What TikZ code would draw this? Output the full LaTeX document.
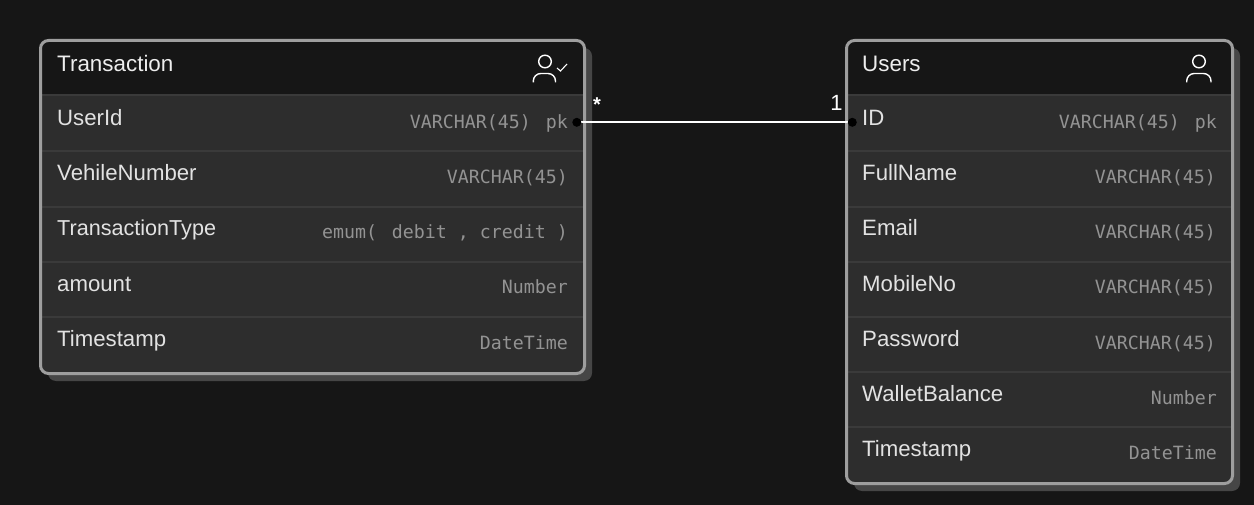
\documentclass[tikz,border=0pt]{standalone}
\usepackage{fontspec}
\setmainfont{Liberation Sans}
\newfontfamily\monof{DejaVu Sans Mono}
\definecolor{bgc}{HTML}{161616}
\definecolor{rowc}{HTML}{2D2D2D}
\definecolor{sepc}{HTML}{3A3A3A}
\definecolor{borderc}{HTML}{9E9E9E}
\definecolor{shadowc}{HTML}{464646}
\definecolor{namec}{HTML}{E2E2E2}
\definecolor{titlec}{HTML}{EDEDED}
\definecolor{typec}{HTML}{939393}
\pgfdeclarelayer{top}
\pgfsetlayers{main,top}
\tikzset{
  x=1pt,y=-1pt,
  titletext/.style={anchor=base west,inner sep=0pt,text=titlec,font=\fontsize{22.4}{26}\selectfont},
  nametext/.style={anchor=base west,inner sep=0pt,text=namec,font=\fontsize{22.2}{26}\selectfont},
  typetext/.style={anchor=base east,inner sep=0pt,text=typec,font=\monof\fontsize{18.25}{22}\selectfont},
  enddot/.style={circle,fill=black,draw=none,minimum size=9pt,inner sep=0pt},
  marklabel/.style={inner sep=0pt,text=white,font=\fontsize{22}{26}\selectfont},
  iconline/.style={draw=white,line width=1.4pt,line cap=butt},
  rowsep/.style={draw=sepc,line width=2pt},
}
\newcommand{\pktype}[1]{#1\hspace{15pt}pk}
\begin{document}
\begin{tikzpicture}
\useasboundingbox[fill=bgc] (0,0) rectangle (1254,505);
% Transaction box
\fill[shadowc,rounded corners=8pt] (48,48) rectangle (592,381);
\fill[bgc,rounded corners=8pt] (40,40) rectangle (585,374);
\fill[rowc,rounded corners=8pt] (40,95) rectangle (585,374);
\fill[rowc] (40,95) rectangle (585,120);
\foreach \yy in {95,151,207,262,317} \draw[rowsep] (41,\yy) -- (584,\yy);
\draw[borderc,line width=3pt,rounded corners=8pt] (40.5,40.5) rectangle (584.5,373.5);
% Users box
\fill[shadowc,rounded corners=8pt] (854,48) rectangle (1240,491);
\fill[bgc,rounded corners=8pt] (846,40) rectangle (1233,484);
\fill[rowc,rounded corners=8pt] (846,95) rectangle (1233,484);
\fill[rowc] (846,95) rectangle (1233,120);
\foreach \yy in {95,151,207,262,317,372,427} \draw[rowsep] (847,\yy) -- (1232,\yy);
\draw[borderc,line width=3pt,rounded corners=8pt] (846.5,40.5) rectangle (1232.5,483.5);
% Transaction text
\node[titletext] (ttitle) at (57,72) {Transaction};
\node[nametext] (t1) at (57,126) {UserId};
\node[nametext] (t2) at (57,181) {VehileNumber};
\node[nametext] (t3) at (57,236) {\fontsize{21.6}{26}\selectfont TransactionType};
\node[nametext] (t4) at (57,292) {amount};
\node[nametext] (t5) at (57,346) {Timestamp};
\node[typetext] (tt1) at (568,129) {\pktype{VARCHAR(45)}};
\node[typetext] (tt2) at (568,184) {VARCHAR(45)};
\node[typetext] (tt3) at (568,239) {emum(\hspace{15pt}debit , credit )};
\node[typetext] (tt4) at (568,294) {Number};
\node[typetext] (tt5) at (568,349) {DateTime};
% Users text
\node[titletext] (utitle) at (862,72) {Users};
\node[nametext] (u1) at (862,126) {ID};
\node[nametext] (u2) at (862,181) {FullName};
\node[nametext] (u3) at (862,236) {Email};
\node[nametext] (u4) at (862,291) {MobileNo};
\node[nametext] (u5) at (862,346) {Password};
\node[nametext] (u6) at (862,401) {WalletBalance};
\node[nametext] (u7) at (862,456) {Timestamp};
\node[typetext] (ut1) at (1217,129) {\pktype{VARCHAR(45)}};
\node[typetext] (ut2) at (1216,184) {VARCHAR(45)};
\node[typetext] (ut3) at (1216,239) {VARCHAR(45)};
\node[typetext] (ut4) at (1216,294) {VARCHAR(45)};
\node[typetext] (ut5) at (1216,349) {VARCHAR(45)};
\node[typetext] (ut6) at (1217,404) {Number};
\node[typetext] (ut7) at (1217,459) {DateTime};
% Icons
\draw[iconline] (545,61.5) circle (6.3);
\draw[iconline] (533.3,82.5) -- (533.3,81) arc[start angle=180,end angle=270,radius=7.5] -- (548,73.5) arc[start angle=270,end angle=360,radius=7.5] -- (555.5,82.5);
\draw[draw=white,line width=1.1pt] (557,68) -- (560.5,71) -- (567,64);
\draw[iconline] (1199,61.5) circle (6.3);
\draw[iconline] (1186.7,82.5) -- (1186.7,81) arc[start angle=180,end angle=270,radius=7.5] -- (1203.5,73.5) arc[start angle=270,end angle=360,radius=7.5] -- (1211,82.5);
% Connector
\begin{pgfonlayer}{top}
\node[enddot] (dota) at (576.8,122.3) {};
\node[enddot] (dotb) at (852.3,122.3) {};
\end{pgfonlayer}
\draw[white,line width=2pt] (dota.center) -- (dotb.center);
\node[marklabel] (many) at (597,105) {\bfseries\fontsize{20}{22}\selectfont *};
\node[marklabel] (one) at (836.5,103) {1};
\end{tikzpicture}
\end{document}
